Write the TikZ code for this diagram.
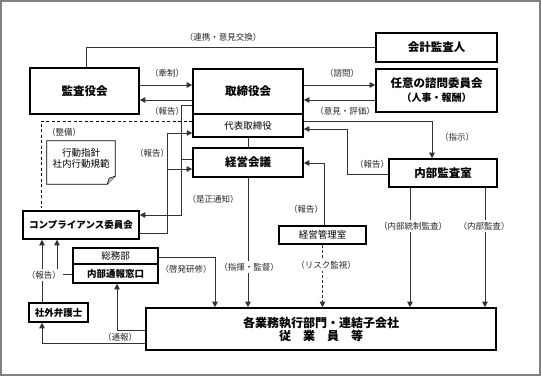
\documentclass[tikz,border=0pt]{standalone}
\usepackage{fontspec}
\setmainfont{Noto Sans CJK JP}
\usetikzlibrary{arrows.meta}
\tikzset{
 box/.style={draw=black, line width=1.6pt, inner sep=0pt, align=center, font=\bfseries\fontsize{11.5}{13}\selectfont},
 sbox/.style={draw=black, line width=1.5pt, inner sep=0pt, align=center, font=\fontsize{9.5}{11}\selectfont},
 bsbox/.style={sbox, font=\bfseries\fontsize{9.5}{11}\selectfont},
 conn/.style={draw=black!80, line width=0.9pt},
 arr/.style={conn, -{Triangle[length=5.5pt,width=5.5pt]}},
 lbl/.style={font=\fontsize{8.5}{9.5}\selectfont, inner sep=1pt, text=black!85},
 wlbl/.style={lbl, fill=white, inner sep=2pt},
}
\begin{document}
\begin{tikzpicture}[x=1pt,y=-1pt]
\useasboundingbox (0,0) rectangle (541,376);
\draw[gray, line width=1.6pt] (1,1) rectangle (540,375);

% helper coordinates
\coordinate (h85) at (0,85);
\coordinate (h100) at (0,100);
\coordinate (h105) at (0,105);
\coordinate (h121) at (0,121);
\coordinate (h129) at (0,129);
\coordinate (h133) at (0,133);
\coordinate (h159) at (0,159);
\coordinate (h163) at (0,163);
\coordinate (h169) at (0,169);
\coordinate (h174) at (0,174);
\coordinate (h215) at (0,215);
\coordinate (h233) at (0,233);
\coordinate (h257) at (0,257);
\coordinate (h274) at (0,274);
\coordinate (h330) at (0,330);
\coordinate (h343) at (0,343);
\coordinate (v41) at (41,0);
\coordinate (v42) at (42,0);
\coordinate (v57) at (57,0);
\coordinate (v86) at (86,0);
\coordinate (v117) at (117,0);
\coordinate (v167) at (167,0);
\coordinate (v181) at (181,0);
\coordinate (v215) at (215,0);
\coordinate (v324) at (324,0);
\coordinate (v347) at (347,0);
\coordinate (v410) at (410,0);
\coordinate (v432) at (432,0);
\coordinate (v485) at (485,0);

% boxes
\node[box, minimum width=109pt, minimum height=46pt] (kansa) at (84.5,91) {監査役会};
\node[box, minimum width=110pt, minimum height=45pt] (torishimari) at (248,91.5) {取締役会};
\node[sbox, minimum width=110pt, minimum height=23pt] (daihyo) at (248,125.5) {代表取締役};
\node[box, minimum width=110pt, minimum height=29pt] (keiei) at (248,162.5) {経営会議};
\node[box, minimum width=121pt, minimum height=29pt] (kaikei) at (436.5,47.5) {会計監査人};
\node[box, minimum width=121pt, minimum height=43pt] (shimon) at (436.5,90.5) {任意の諮問委員会\\[1pt]{\fontsize{10}{12}\selectfont （人事・報酬）}};
\node[box, minimum width=108pt, minimum height=28pt] (naibu) at (443,173) {内部監査室};
\node[bsbox, minimum width=116pt, minimum height=28pt] (comp) at (81,225) {コンプライアンス委員会};
\node[sbox, minimum width=85pt, minimum height=16pt] (somu) at (115.5,256) {総務部};
\node[bsbox, minimum width=85pt, minimum height=19pt] (madoguchi) at (115.5,273.5) {内部通報窓口};
\node[bsbox, minimum width=59pt, minimum height=19pt] (bengoshi) at (58.5,312.5) {社外弁護士};
\node[sbox, minimum width=87pt, minimum height=18pt] (kanri) at (322.5,235) {経営管理室};
\node[box, minimum width=350pt, minimum height=42pt, font=\bfseries\fontsize{12}{13}\selectfont] (gyomu) at (321,329) {各業務執行部門・連結子会社\\従　業　員　等};

% document shape
\node[minimum width=68pt, minimum height=43pt, inner sep=0pt] (doc) at (81,162.5) {};
\draw[line width=0.8pt, fill=white] (doc.north west) -- (doc.north east) -- ([yshift=8pt]doc.south east) -- ([xshift=-8pt]doc.south east) -- (doc.south west) -- cycle;
\draw[line width=0.6pt, fill=black!25] ([yshift=8pt]doc.south east) -- ([xshift=-6pt,yshift=6pt]doc.south east) -- ([xshift=-8pt]doc.south east);
\node[align=center, font=\fontsize{9.5}{11}\selectfont, inner sep=0pt] (doctext) at ([yshift=4pt]doc.center) {行動指針\\社内行動規範};

% dashed frame
\draw[line width=0.9pt, dash pattern=on 3pt off 2.5pt, shorten >=2pt] (daihyo.west |- h121) -| (v41 |- comp.north);

% connectors
\draw[conn] (v86 |- kansa.north) |- (kaikei.west);
\draw[arr] (kansa.east |- h85) -- (torishimari.west |- h85);
\draw[arr] (torishimari.west |- h100) -- (kansa.east |- h100);
\draw[arr] (torishimari.east |- h85) -- (shimon.west |- h85);
\draw[arr] (shimon.west |- h100) -- (torishimari.east |- h100);
\draw[arr] (daihyo.east |- h121) -| (v432 |- naibu.north);
\draw[arr] (naibu.west |- h174) -| (v347 |- h129) -- (daihyo.east |- h129);
\draw[arr] (kanri.north -| v324) |- (keiei.east |- h163);
\draw[conn] (daihyo.south) -- (keiei.north);
\draw[arr] (keiei.south) -- (gyomu.north -| keiei.south);
\draw[arr, dash pattern=on 3pt off 2pt] (kanri.south) -- (gyomu.north -| kanri.south);
\draw[arr] (somu.east |- h257) -| (v215 |- gyomu.north);
\draw[arr] (v410 |- naibu.south) -- (v410 |- gyomu.north);
\draw[arr] (v485 |- naibu.south) -- (v485 |- gyomu.north);
\draw[arr] (gyomu.west |- h330) -| (v117 |- madoguchi.south);
\draw[arr] (gyomu.west |- h343) -| (v42 |- bengoshi.south);
\draw[arr] (v42 |- bengoshi.north) -- (v42 |- comp.south);
\draw[arr] (madoguchi.west |- h274) -| (v57 |- comp.south);
\draw[arr] (comp.east |- h233) -| (v167 |- h133) -- (daihyo.west |- h133);
\draw[arr] (v167 |- h169) -- (keiei.west |- h169);
\draw[arr] (torishimari.west |- h105) -| (v181 |- h215) -- (comp.east |- h215);
\draw[conn] (keiei.west |- h159) -- (v181 |- h159);

% labels
\node[lbl] (l1) at (223,37) {（連携・意見交換）};
\node[lbl] (l2) at (167,73) {（牽制）};
\node[lbl] (l3) at (167,111) {（報告）};
\node[lbl] (l4) at (342,73) {（諮問）};
\node[lbl] (l5) at (345,111) {（意見・評価）};
\node[lbl] (l6) at (457,137) {（指示）};
\node[lbl] (l7) at (372,164) {（報告）};
\node[lbl] (l8) at (306,209) {（報告）};
\node[lbl] (l9) at (64,132) {（整備）};
\node[lbl] (l10) at (152,153) {（報告）};
\node[lbl] (l11) at (213,199) {（是正通知）};
\node[wlbl] (l12) at (249,267) {（指揮・監督）};
\node[wlbl] (l13) at (326,265) {（リスク監視）};
\node[lbl] (l14) at (186,269) {（啓発研修）};
\node[wlbl] (l15) at (413,226) {（内部統制監査）};
\node[wlbl] (l16) at (484,226) {（内部監査）};
\node[lbl] (l17) at (120,337) {（通報）};
\node[wlbl] (l18) at (44,275) {（報告）};
\end{tikzpicture}
\end{document}
